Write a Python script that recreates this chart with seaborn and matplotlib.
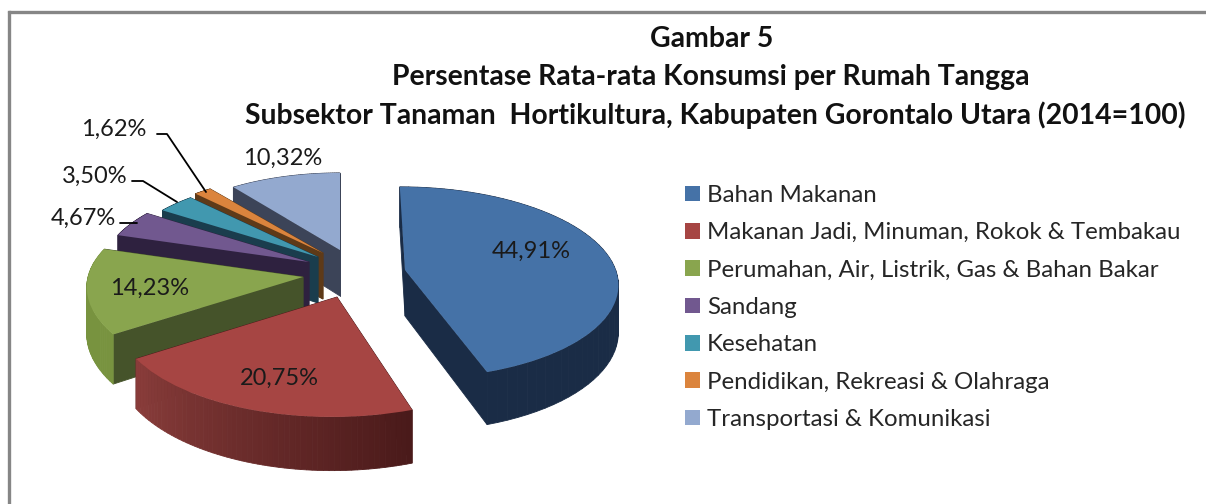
import numpy as np
import matplotlib
matplotlib.use("Agg")
import matplotlib.pyplot as plt
import matplotlib.colors as mcolors
from matplotlib.transforms import Transform
import seaborn as sns

# ---------- Data ----------
categories = [
    "Bahan Makanan",
    "Makanan Jadi, Minuman, Rokok & Tembakau",
    "Perumahan, Air, Listrik, Gas & Bahan Bakar",
    "Sandang",
    "Kesehatan",
    "Pendidikan, Rekreasi & Olahraga",
    "Transportasi & Komunikasi",
]
values = [44.91, 20.75, 14.23, 4.67, 3.50, 1.62, 10.32]
title_lines = [
    "Gambar 5",
    "Persentase Rata-rata Konsumsi per Rumah Tangga",
    "Subsektor Tanaman  Hortikultura, Kabupaten Gorontalo Utara (2014=100)",
]

# ---------- Style ----------
top_colors = ["#4572a7", "#a64543", "#89a54e", "#71588f", "#4198af", "#db843d", "#93a9cf"]
radial_colors = ["#1a2c46", "#4a1a1a", "#45532a", "#2e213f", "#1a3d4d", "#5e3a18", "#3c4458"]
wall_start = ["#1a2c46", "#8a3d3b", "#78933f", "#2e213f", "#1a3d4d", "#5e3a18", "#3c4458"]
wall_end = ["#1a2c46", "#4a1a1a", "#78933f", "#2e213f", "#1a3d4d", "#5e3a18", "#3c4458"]

# pixel position of each slice apex, its size and the order back to front
apex_x = [405, 337, 303, 309, 318, 323, 340]
apex_y = [270, 297, 277, 262, 257, 253, 250]
scale_x = [0.98, 1.02, 1.0, 0.96, 0.92, 0.92, 0.90]
scale_y = [0.98, 1.07, 1.0, 0.96, 0.92, 0.92, 0.90]
shear = [-6, 4, -6, -6, -6, -6, 0]
draw_order = [6, 5, 4, 3, 2, 0, 1]
DEPTH = 46

sns.set_theme(style="white")
plt.rcParams["font.family"] = ["Lato", "DejaVu Sans"]
palette = sns.color_palette(top_colors)


# ---------- Tilted pie projection ----------
def project(x, y, cx, cy, rx, ry, s):
    x, y = x * rx, y * ry
    w = 1 + 0.134 * y
    return cx + (215 * x + s * y) / w, cy - 96 * y / w


class Tilt(Transform):
    input_dims = output_dims = 2
    is_separable = False

    def __init__(self, *args):
        super().__init__()
        self.args = args

    def transform_non_affine(self, values):
        sx, sy = project(values[:, 0], values[:, 1], *self.args)
        return np.column_stack([sx, sy])


fig = plt.figure(figsize=(12.06, 5.04), dpi=100)
ax = fig.add_axes([0, 0, 1, 1])

wedges, _ = ax.pie(values, colors=palette, startangle=90, counterclock=False, radius=1)
ax.set_aspect("auto")
ax.set_xlim(0, 1206)
ax.set_ylim(504, 0)
ax.axis("off")


def slice_args(i):
    return apex_x[i], apex_y[i], scale_x[i], scale_y[i], shear[i]


def extrude(x, y, i, color, z):
    # one wall quad running from (x0,y0) to (x1,y1) on the top face
    sx, sy = project(x, y, *slice_args(i))
    drop = DEPTH / (1 + 0.134 * y * scale_y[i])
    px = [sx[0], sx[1], sx[1], sx[0]]
    py = [sy[0], sy[1], sy[1] + drop[1], sy[0] + drop[0]]
    ax.fill(px, py, color=color, lw=0.6, zorder=z)


for z, i in enumerate(draw_order):
    wedge = wedges[i]
    wedge.set_transform(Tilt(*slice_args(i)) + ax.transData)
    wedge.set_zorder(z * 2 + 1.5)
    wedge.set_edgecolor("none")
    t1, t2 = np.radians(wedge.theta1), np.radians(wedge.theta2)
    # radial walls
    for t in (t1, t2):
        extrude(np.array([0.0, np.cos(t)]), np.array([0.0, np.sin(t)]), i, radial_colors[i], z * 2 + 1)
    # outer wall, shaded along the arc
    steps = np.linspace(t1, t2, 60)
    c0, c1 = np.array(mcolors.to_rgb(wall_start[i])), np.array(mcolors.to_rgb(wall_end[i]))
    for k in range(len(steps) - 1):
        a = steps[k:k + 2]
        extrude(np.cos(a), np.sin(a), i, c0 + (c1 - c0) * k / (len(steps) - 2), z * 2 + 1)

# ---------- Labels ----------
label_x = [531, 279, 150, 83, 95, 114, 283]
label_y = [251, 378, 288, 218, 176, 129, 158]
for v, x, y in zip(values, label_x, label_y):
    ax.text(x, y, f"{v:.2f}%".replace(".", ","), ha="center", va="center",
            fontsize=17, color="#1a1a1a", zorder=30)

# leader lines of the small slices
leader_x = [[157, 167, 206], [132, 143, 177], [120, 137]]
leader_y = [[134, 134, 192], [181, 181, 202], [223, 223]]
for lx, ly in zip(leader_x, leader_y):
    ax.plot(lx, ly, color="black", lw=1.3, zorder=25)

# ---------- Title ----------
title_x = [712, 711, 715]
title_y = [39, 77, 115]
for line, x, y in zip(title_lines, title_x, title_y):
    ax.text(x, y, line, ha="center", va="center", fontsize=20.4, fontweight="bold",
            color="#111111", zorder=30)

# ---------- Legend ----------
ax.legend(wedges, categories, loc="upper left", bbox_to_anchor=(685, 185),
          bbox_transform=ax.transData, frameon=False, fontsize=17.3,
          handlelength=0.62, handleheight=0.62, handletextpad=0.29,
          labelspacing=0.68, borderpad=0, borderaxespad=0)

# ---------- Frame ----------
ax.plot([9, 9], [504, 12], color="#868686", lw=2.4, zorder=40, solid_capstyle="projecting")
ax.plot([9, 1206], [12, 12], color="#868686", lw=2.4, zorder=40)

fig.savefig("out.png", dpi=100)
